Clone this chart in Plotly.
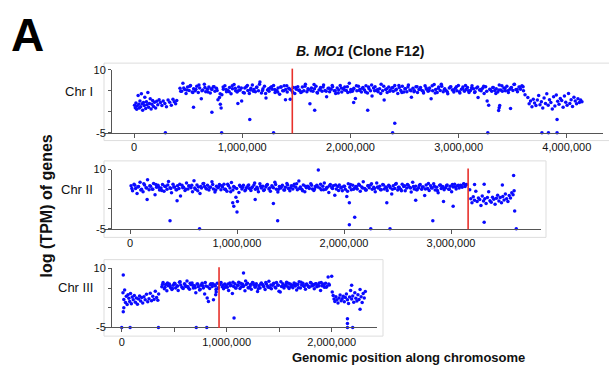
import plotly.graph_objects as go

# ---------------- data (positions in kb, values in log TPM) ----------------
chr1_left_x = [5, 12, 18, 25, 30, 38, 44, 50, 55, 62, 68, 75, 80, 88, 95, 100, 108, 115, 120, 128,
               135, 142, 150, 158, 165, 172, 180, 190, 200, 210, 220, 232, 245, 258, 270, 285, 300, 315, 330, 345,
               360, 372, 385, 395]
chr1_left_y = [1.6, 1.0, 2.1, 0.6, 1.4, 3.9, 1.8, 0.9, 2.6, 1.2, 4.3, 1.9, 0.4, 2.2, 1.5, 3.5, 0.8, 2.4, 1.7, 4.6,
               1.1, 2.0, 3.1, 0.7, 1.8, 2.7, 1.3, 2.3, 0.9, 2.5, 1.7, 2.9, 2.2, 1.5, 2.6, 2.0, 1.2, 2.8, 2.3, 1.6,
               3.0, 2.4, 1.9, 2.7]
chr1_band_x = [425, 440, 452, 468, 481, 495, 510, 522, 538, 551,
               566, 580, 594, 607, 622, 636, 650, 663, 678, 692,
               705, 720, 733, 748, 762, 776, 790, 798, 805, 812,
               826, 840, 855, 868, 883, 897, 910, 925, 939, 953,
               967, 981, 995, 1010, 1024, 1038, 1052, 1066, 1080, 1094,
               1108, 1122, 1136, 1150, 1164, 1178, 1192, 1206, 1220, 1234,
               1248, 1262, 1276, 1290, 1304, 1318, 1332, 1346, 1360, 1374,
               1388, 1402, 1416, 1430, 1444, 1458, 1472, 1486, 1500, 1514,
               1528, 1542, 1556, 1570, 1584, 1598, 1612, 1626, 1640, 1654,
               1668, 1682, 1696, 1710, 1724, 1738, 1752, 1766, 1780, 1794,
               1808, 1822, 1836, 1850, 1864, 1878, 1892, 1906, 1920, 1934,
               1948, 1962, 1976, 1990, 2004, 2018, 2032, 2046, 2060, 2074,
               2088, 2102, 2116, 2130, 2144, 2158, 2172, 2186, 2200, 2214,
               2228, 2242, 2256, 2270, 2284, 2298, 2312, 2326, 2340, 2354,
               2368, 2382, 2396, 2410, 2424, 2438, 2452, 2466, 2480, 2494,
               2508, 2522, 2536, 2550, 2564, 2578, 2592, 2606, 2620, 2634,
               2648, 2662, 2676, 2690, 2704, 2718, 2732, 2746, 2760, 2774,
               2788, 2802, 2816, 2830, 2844, 2858, 2872, 2886, 2900, 2914,
               2928, 2942, 2956, 2970, 2984, 2998, 3012, 3026, 3040, 3054,
               3068, 3082, 3096, 3110, 3124, 3138, 3152, 3166, 3180, 3194,
               3208, 3222, 3236, 3250, 3264, 3278, 3292, 3306, 3320, 3334,
               3348, 3362, 3376, 3390, 3404, 3418, 3432, 3446, 3460, 3474,
               3488, 3502, 3516, 3530, 3544, 3558, 3572, 3586, 3600, 3614]
chr1_band_y = [5.6, 4.9, 6.8, 5.3, 4.4, 5.9, 5.1, 6.3, 4.7, 5.5,
               5.0, 6.1, 4.6, 5.7, 3.1, 5.2, 6.6, 4.8, 5.4, 5.9,
               4.5, 5.3, 6.0, 4.9, 5.6, 2.9, 3.4, 1.8, 0.9, 4.1,
               5.4, 6.2, 4.8, 5.1, 5.8, 4.3, 5.5, 6.5, 5.0, 4.7,
               5.9, 5.2, 2.6, 4.6, 5.7, 6.0, 5.1, 4.4, 5.6, 6.4,
               5.3, 4.8, 5.9, 5.0, 7.1, 4.5, 5.5, 6.1, 3.3, 5.2,
               4.9, 5.8, 5.4, 6.3, 4.6, 5.1, 5.7, 4.2, 5.9, 5.0,
               6.2, 5.3, 4.7, 5.6, 3.0, 5.1, 5.8, 4.4, 5.4, 6.0,
               5.2, 4.6, 5.9, 5.0, 6.6, 4.8, 5.3, 1.9, 5.7, 4.9,
               5.5, 6.1, 4.5, 5.2, 5.8, 4.9, 6.4, 5.1, 3.6, 5.6,
               4.8, 5.4, 6.0, 5.0, 4.4, 5.7, 5.2, 6.3, 4.7, 5.5,
               5.9, 5.1, 4.6, 6.8, 5.3, 4.9, 5.6, 3.2, 5.0, 6.1,
               5.4, 4.7, 5.8, 5.2, 6.2, 4.5, 5.5, 5.0, 3.8, 5.7,
               6.0, 5.1, 4.8, 5.5, 6.6, 5.0, 2.8, 5.3, 4.6, 5.9,
               5.2, 5.7, 4.9, 6.3, 5.4, 4.4, 5.8, 5.1, 6.1, 4.7,
               5.5, 4.8, 6.4, 5.2, 3.5, 5.6, 5.0, 6.0, 4.6, 5.3,
               5.8, 5.1, 4.5, 6.2, 5.4, 4.9, 5.7, 3.1, 5.0, 6.5,
               5.3, 4.6, 5.9, 5.1, 6.1, 4.8, 5.5, 5.0, 4.3, 5.7,
               6.0, 5.2, 4.7, 5.6, 5.0, 6.3, 4.5, 5.4, 5.9, 4.9,
               5.3, 5.8, 4.6, 5.1, 6.2, 5.5, 4.8, 5.7, 3.4, 5.2,
               5.0, 5.6, 4.4, 6.0, 2.6, 1.6, 5.3, 4.9, 5.8, 5.1,
               5.5, 4.7, 6.4, 5.2, 4.9, 5.7, 5.0, 6.1, 4.6, 5.4,
               5.8, 5.1, 6.6, 5.3, 4.8, 5.9, 5.4, 6.2, 5.0, 4.1]
chr1_band2_x = [432, 460, 488, 516, 544, 572, 600, 628, 656, 684,
                712, 740, 768, 796, 824, 852, 880, 908, 936, 964,
                992, 1020, 1048, 1076, 1104, 1132, 1160, 1188, 1216, 1244,
                1272, 1300, 1328, 1356, 1384, 1412, 1440, 1468, 1496, 1524,
                1552, 1580, 1608, 1636, 1664, 1692, 1720, 1748, 1776, 1804,
                1832, 1860, 1888, 1916, 1944, 1972, 2000, 2028, 2056, 2084,
                2112, 2140, 2168, 2196, 2224, 2252, 2280, 2308, 2336, 2364,
                2392, 2420, 2448, 2476, 2504, 2532, 2560, 2588, 2616, 2644,
                2672, 2700, 2728, 2756, 2784, 2812, 2840, 2868, 2896, 2924,
                2952, 2980, 3008, 3036, 3064, 3092, 3120, 3148, 3176, 3204,
                3232, 3260, 3288, 3316, 3344, 3372, 3400, 3428, 3456, 3484,
                3512, 3540, 3568, 3596]
chr1_band2_y = [4.9, 5.7, 5.2, 6.1, 4.6, 5.4, 6.4, 5.0, 5.8, 4.7,
                5.5, 6.0, 5.1, 4.3, 5.9, 5.3, 4.8, 6.2, 5.6, 5.0,
                5.7, 4.5, 6.3, 5.2, 4.9, 5.8, 6.6, 5.1, 4.4, 5.5,
                6.0, 5.3, 4.7, 5.9, 5.0, 6.2, 5.4, 4.6, 5.8, 5.1,
                4.8, 6.1, 5.5, 5.0, 6.5, 4.6, 5.3, 5.9, 4.9, 5.6,
                6.3, 5.0, 4.5, 5.7, 5.2, 6.0, 4.8, 5.4, 6.2, 5.1,
                5.6, 4.7, 5.9, 6.4, 5.0, 5.3, 4.4, 6.1, 5.5, 4.9,
                5.8, 5.2, 6.3, 4.6, 5.5, 5.9, 5.0, 4.8, 6.0, 5.4,
                4.9, 5.7, 5.1, 6.2, 4.5, 5.6, 6.6, 5.3, 4.7, 5.9,
                5.2, 6.0, 4.8, 5.5, 6.3, 5.0, 5.7, 4.6, 5.9, 5.3,
                6.1, 4.9, 5.4, 5.8, 4.4, 5.2, 6.2, 5.6, 5.0, 5.7,
                6.5, 5.3, 5.9, 6.0]
chr1_right_x = [3640, 3652, 3665, 3678, 3690, 3702, 3715, 3728, 3740, 3752, 3765, 3778, 3790, 3803, 3815, 3828,
                3840, 3853, 3866, 3878, 3890, 3903, 3916, 3928, 3940, 3953, 3966, 3978, 3990, 4003, 4016, 4028,
                4040, 4053, 4066, 4078, 4090, 4103, 4116, 4128, 4140]
chr1_right_y = [3.4, 1.9, 2.6, 1.2, 3.0, 2.1, 1.5, 2.8, 3.9, 1.7, 2.4, 0.9, 3.3, 2.0, 4.3, 1.6,
                2.9, 2.2, 0.7, 3.6, 1.4, 4.0, 2.5, 1.8, 3.2, 2.7, 1.1, 3.8, 2.3, 1.6, 4.4, 2.0,
                2.9, 1.3, 3.5, 2.6, 1.9, 3.1, 2.2, 2.8, 2.4]
chr1_out_x = [290, 810, 1290, 2390, 3270, 3770, 3830, 3910, 1070, 2410, 3910, 3370, 3375, 3380, 550,
              720, 960, 1400, 1670, 2160, 2030, 3480]
chr1_out_y = [-5, -5, -5, -5, -5, -5, -5, -5, -1.8, -2.7, -1.8, 0.3, 1.0, 1.5, 1.1,
              -0.1, 2.0, 2.9, 0.4, 0.4, 2.2, 0.8]

chr2_band_x = [10, 24, 38, 52, 66, 80, 94, 108, 122, 136,
               150, 164, 178, 192, 206, 220, 234, 248, 262, 276,
               290, 304, 318, 332, 346, 360, 374, 388, 402, 416,
               430, 444, 458, 472, 486, 500, 514, 528, 542, 556,
               570, 584, 598, 612, 626, 640, 654, 668, 682, 696,
               710, 724, 738, 752, 766, 780, 794, 808, 822, 836,
               850, 864, 878, 892, 906, 920, 934, 948, 962, 976,
               990, 1004, 1018, 1032, 1046, 1060, 1074, 1088, 1102, 1116,
               1130, 1144, 1158, 1172, 1186, 1200, 1214, 1228, 1242, 1256,
               1270, 1284, 1298, 1312, 1326, 1340, 1354, 1368, 1382, 1396,
               1410, 1424, 1438, 1452, 1466, 1480, 1494, 1508, 1522, 1536,
               1550, 1564, 1578, 1592, 1606, 1620, 1634, 1648, 1662, 1676,
               1690, 1704, 1718, 1732, 1746, 1760, 1774, 1788, 1802, 1816,
               1830, 1844, 1858, 1872, 1886, 1900, 1914, 1928, 1942, 1956,
               1970, 1984, 1998, 2012, 2026, 2040, 2054, 2068, 2082, 2096,
               2110, 2124, 2138, 2152, 2166, 2180, 2194, 2208, 2222, 2236,
               2250, 2264, 2278, 2292, 2306, 2320, 2334, 2348, 2362, 2376,
               2390, 2404, 2418, 2432, 2446, 2460, 2474, 2488, 2502, 2516,
               2530, 2544, 2558, 2572, 2586, 2600, 2614, 2628, 2642, 2656,
               2670, 2684, 2698, 2712, 2726, 2740, 2754, 2768, 2782, 2796,
               2810, 2824, 2838, 2852, 2866, 2880, 2894, 2908, 2922, 2936,
               2950, 2964, 2978, 2992, 3006, 3020, 3034, 3048, 3062, 3076,
               3090, 3104, 3118, 3132, 3146]
chr2_band_y = [5.9, 4.6, 6.3, 5.2, 3.9, 5.7, 6.8, 5.0, 4.4, 6.1,
               5.4, 7.4, 4.9, 5.8, 5.1, 6.5, 3.6, 5.5, 6.0, 4.8,
               5.3, 6.2, 4.5, 5.7, 5.0, 7.0, 5.4, 4.1, 6.3, 5.6,
               4.9, 5.9, 5.2, 3.3, 6.0, 5.5, 4.7, 6.6, 5.1, 5.8,
               5.4, 4.4, 7.2, 5.0, 6.1, 5.6, 3.9, 5.3, 6.4, 5.7,
               5.2, 6.0, 4.8, 5.5, 6.9, 5.1, 4.3, 5.8, 5.4, 6.2,
               4.9, 5.6, 6.3, 5.0, 4.5, 5.9, 5.3, 6.7, 4.8, 5.5,
               3.0, 1.9, 4.2, 5.7, 5.1, 6.0, 4.6, 5.4, 5.9, 5.2,
               4.7, 5.6, 6.1, 5.0, 5.5, 4.4, 6.4, 5.3, 5.8, 4.9,
               5.6, 6.2, 5.1, 4.5, 5.9, 5.4, 6.8, 5.0, 4.3, 5.7,
               5.3, 6.0, 4.8, 5.5, 6.5, 5.2, 4.6, 5.9, 5.1, 6.3,
               5.5, 4.9, 7.1, 5.6, 5.0, 6.1, 4.4, 5.4, 5.8, 5.2,
               6.4, 5.1, 4.7, 5.7, 6.0, 9.9, 5.3, 4.9, 5.8, 6.6,
               5.0, 5.5, 4.2, 6.2, 5.4, 5.9, 3.5, 5.1, 5.7, 6.1,
               5.3, 4.6, 5.8, 5.0, 3.2, 6.4, 5.5, 4.9, 6.0, 5.2,
               5.7, 5.1, 6.3, 4.5, 5.6, 6.9, 5.2, 4.8, 5.9, 5.4,
               6.1, 5.0, 5.5, 4.4, 6.6, 5.3, 5.8, 4.9, 6.2, 5.1,
               5.6, 4.7, 6.0, 5.4, 3.8, 5.9, 5.2, 6.5, 4.8, 5.5,
               5.0, 6.3, 5.7, 4.6, 5.3, 6.0, 5.5, 4.3, 6.8, 5.1,
               5.8, 4.9, 5.4, 6.2, 5.0, 5.6, 3.4, 6.1, 5.2, 4.7,
               5.9, 5.3, 6.4, 4.8, 5.5, 4.1, 6.0, 5.2, 5.7, 4.9,
               5.4, 6.1, 5.0, 5.8, 4.4, 5.6, 6.3, 5.1, 5.9, 5.3,
               6.0, 5.5, 6.4, 5.7, 6.2]
chr2_band2_x = [17, 45, 73, 101, 129, 157, 185, 213, 241, 269,
                297, 325, 353, 381, 409, 437, 465, 493, 521, 549,
                577, 605, 633, 661, 689, 717, 745, 773, 801, 829,
                857, 885, 913, 941, 969, 997, 1025, 1053, 1081, 1109,
                1137, 1165, 1193, 1221, 1249, 1277, 1305, 1333, 1361, 1389,
                1417, 1445, 1473, 1501, 1529, 1557, 1585, 1613, 1641, 1669,
                1697, 1725, 1753, 1781, 1809, 1837, 1865, 1893, 1921, 1949,
                1977, 2005, 2033, 2061, 2089, 2117, 2145, 2173, 2201, 2229,
                2257, 2285, 2313, 2341, 2369, 2397, 2425, 2453, 2481, 2509,
                2537, 2565, 2593, 2621, 2649, 2677, 2705, 2733, 2761, 2789,
                2817, 2845, 2873, 2901, 2929, 2957, 2985, 3013, 3041, 3069,
                3097, 3125]
chr2_band2_y = [5.2, 6.0, 5.6, 4.8, 6.4, 5.3, 5.9, 5.0, 6.2, 5.5,
                4.7, 5.8, 6.1, 5.2, 5.6, 4.9, 6.3, 5.4, 5.0, 5.9,
                6.0, 5.3, 4.6, 5.7, 6.5, 5.1, 5.5, 6.2, 4.8, 5.6,
                5.9, 5.0, 6.3, 4.4, 5.7, 5.2, 6.0, 5.5, 4.9, 6.1,
                5.4, 6.6, 5.1, 5.8, 4.7, 6.0, 5.3, 5.6, 6.2, 5.0,
                5.7, 4.8, 6.1, 5.4, 5.9, 6.4, 5.2, 4.6, 5.8, 5.5,
                6.0, 5.1, 5.6, 6.3, 4.9, 5.4, 5.9, 5.2, 6.1, 4.7,
                5.5, 5.8, 4.5, 6.2, 5.0, 5.7, 6.0, 5.3, 4.8, 5.9,
                6.4, 5.2, 5.6, 4.9, 6.1, 5.4, 5.8, 5.0, 6.3, 5.5,
                4.6, 5.9, 6.2, 5.3, 5.7, 4.9, 6.0, 5.6, 5.1, 6.5,
                5.4, 5.8, 4.7, 6.1, 5.3, 5.9, 5.0, 6.2, 5.6, 6.0,
                5.8, 6.3]
chr2_right_x = [3175, 3185, 3196, 3208, 3220, 3232, 3244, 3256, 3268, 3280, 3292, 3304, 3316, 3328, 3340, 3352,
                3364, 3376, 3388, 3400, 3412, 3424, 3436, 3448, 3460, 3472, 3484, 3496, 3508, 3520, 3532, 3544,
                3556, 3568, 3580, 3590]
chr2_right_y = [4.9, 2.6, 1.6, 3.1, 2.2, 4.5, 1.9, 2.8, 2.4, 0.9, 3.3, 2.0, 2.6, 1.4, 2.9, 4.4,
                2.1, 1.7, 3.0, 2.5, 1.2, 2.7, 3.5, 2.0, 2.9, 1.6, 3.2, 2.3, 3.8, 2.6, 1.9, 3.4,
                2.8, 4.1, 3.6, 4.6]
chr2_out_x = [374, 650, 1000, 1380, 2050, 2100, 2250, 2430, 2830, 3310, 3610, 3585, 3595, 3310, 3220, 3480,
              960, 970, 1170, 1340, 440, 160, 2050, 2400, 2930, 3020, 2670]
chr2_out_y = [-3.0, -5, -0.75, -3.0, -4.0, -2.1, -5, -5, -3.0, -3.4, -5, 8.5, -0.5, 6.3, 6.2, 6.1,
              1.6, 0.7, 2.4, 1.4, 2.1, 2.4, 1.6, 1.6, 1.9, 0.7, 2.2]

chr3_left_x = [12, 20, 28, 36, 44, 52, 60, 68, 76, 84, 92, 100, 110, 120, 130, 140, 150, 160, 170, 180,
               190, 200, 212, 224, 236, 248, 260, 272, 284, 296, 308, 320, 332, 344, 352]
chr3_left_y = [3.8, 2.1, 4.5, 1.3, 2.9, 0.8, 3.3, 2.4, 1.6, 3.6, 1.0, 2.7, 2.0, 3.1, 1.4, 2.5, 0.9, 2.2, 3.0, 1.7,
               2.6, 1.2, 2.8, 2.0, 3.4, 1.5, 2.3, 3.7, 1.8, 2.9, 2.1, 4.2, 2.6, 1.9, 3.5]
chr3_band_x = [382, 394, 406, 418, 430, 442, 454, 466, 478, 490,
               502, 514, 526, 538, 550, 562, 574, 586, 598, 610,
               622, 634, 646, 658, 670, 682, 694, 706, 718, 730,
               742, 754, 766, 778, 790, 802, 814, 826, 838, 850,
               862, 874, 886, 898, 910, 922, 934, 946, 958, 970,
               982, 994, 1006, 1018, 1030, 1042, 1054, 1066, 1078, 1090,
               1102, 1114, 1126, 1138, 1150, 1162, 1174, 1186, 1198, 1210,
               1222, 1234, 1246, 1258, 1270, 1282, 1294, 1306, 1318, 1330,
               1342, 1354, 1366, 1378, 1390, 1402, 1414, 1426, 1438, 1450,
               1462, 1474, 1486, 1498, 1510, 1522, 1534, 1546, 1558, 1570,
               1582, 1594, 1606, 1618, 1630, 1642, 1654, 1666, 1678, 1690,
               1702, 1714, 1726, 1738, 1750, 1762, 1774, 1786, 1798, 1810,
               1822, 1834, 1846, 1858, 1870, 1882, 1894, 1906, 1918, 1930,
               1942, 1954, 1966, 1978]
chr3_band_y = [5.3, 6.4, 4.8, 5.9, 4.3, 5.6, 6.0, 5.1, 4.6, 5.7,
               6.2, 5.0, 5.5, 4.4, 6.5, 5.8, 5.2, 4.9, 6.1, 5.4,
               6.8, 5.1, 4.7, 5.9, 6.3, 5.0, 5.6, 3.8, 6.0, 5.3,
               4.5, 5.7, 6.2, 5.0, 3.5, 5.5, 2.5, 1.6, 4.9, 6.1,
               5.4, 2.0, 5.8, 4.6, 6.2, 5.1, 5.9, 6.4, 5.3, 4.8,
               6.0, 5.6, 5.2, 4.4, 6.3, 5.8, 3.6, 5.4, 6.1, 5.0,
               5.7, 6.5, 4.9, 5.3, 6.0, 5.5, 4.3, 5.9, 6.2, 5.1,
               5.4, 4.7, 6.4, 5.8, 5.2, 6.1, 4.1, 5.6, 5.0, 6.3,
               5.9, 5.3, 4.6, 6.0, 5.5, 6.7, 5.1, 4.8, 5.7, 6.2,
               5.2, 6.4, 5.8, 4.2, 4.0, 5.4, 6.1, 5.0, 5.6, 6.5,
               5.3, 4.9, 6.0, 5.7, 5.1, 6.3, 5.5, 4.5, 5.9, 6.6,
               5.0, 5.8, 6.2, 5.4, 4.7, 6.0, 5.6, 5.2, 6.4, 5.5,
               5.9, 4.8, 6.1, 5.3, 5.7, 6.3, 4.4, 5.6, 6.0, 5.2,
               6.2, 5.4, 7.8, 5.8]
chr3_band2_x = [388, 412, 436, 460, 484, 508, 532, 556, 580, 604,
                628, 652, 676, 700, 724, 748, 772, 796, 820, 844,
                868, 892, 916, 940, 964, 988, 1012, 1036, 1060, 1084,
                1108, 1132, 1156, 1180, 1204, 1228, 1252, 1276, 1300, 1324,
                1348, 1372, 1396, 1420, 1444, 1468, 1492, 1516, 1540, 1564,
                1588, 1612, 1636, 1660, 1684, 1708, 1732, 1756, 1780, 1804,
                1828, 1852, 1876, 1900, 1924, 1948, 1972]
chr3_band2_y = [5.9, 5.2, 6.3, 5.6, 4.9, 6.1, 5.5, 6.6, 5.0, 5.8,
                5.4, 6.2, 5.7, 5.1, 6.0, 4.7, 5.6, 6.4, 5.3, 5.9,
                6.1, 5.5, 4.9, 6.3, 5.8, 5.2, 6.0, 5.6, 6.5, 5.0,
                5.7, 6.2, 5.4, 6.8, 5.1, 5.9, 6.3, 5.5, 4.8, 6.0,
                5.6, 6.4, 5.2, 5.8, 6.1, 5.0, 5.7, 6.6, 5.3, 5.9,
                6.2, 5.4, 5.8, 6.0, 5.1, 6.5, 5.6, 5.9, 5.3, 6.3,
                5.7, 6.1, 5.5, 6.4, 5.8, 5.2, 6.0]
chr3_right_x = [2005, 2014, 2022, 2030, 2040, 2050, 2060, 2070, 2080, 2090, 2100, 2110, 2120, 2130, 2140, 2150,
                2160, 2170, 2180, 2190, 2200, 2210, 2220, 2230, 2240, 2250, 2260, 2270, 2280, 2290, 2300, 2310, 2320]
chr3_right_y = [4.0, 3.1, 2.2, 1.6, 2.8, 2.0, 1.2, 2.5, 3.2, 1.8, 2.3, 2.9, 1.5, 2.6, 3.5, 2.0,
                1.1, 2.7, 4.4, 2.2, 3.0, 1.4, 3.8, 2.4, 1.7, 3.3, 2.1, 4.6, 2.8, 1.3, 3.6, 2.5, 4.1]
chr3_out_x = [2150, 2150, 2150, 2190, 2270, 2000, 1160, 1070, 0, 80, 350, 710, 810, 2200, 15, 15, 20, 900, 895]
chr3_out_y = [-2.8, -4.0, -5, 5.7, -0.4, 8.0, 8.8, -2.6, -5, -5, -5, -5, -5, -5, 8.3, -1.0, 0.0, 4.0, 3.3]

# red breakpoint lines (bp) and axis ticks
breakpoints = [1463000, 3160000, 927000]
chrom_labels = ["Chr I", "Chr II", "Chr III"]
x_tick_vals = [[0, 1000000, 2000000, 3000000, 4000000],
               [0, 1000000, 2000000, 3000000],
               [0, 1000000, 2000000]]
x_tick_text = [["0", "1,000,000", "2,000,000", "3,000,000", "4,000,000"],
               ["0", "1,000,000", "2,000,000", "3,000,000"],
               ["0", "1,000,000", "2,000,000"]]
y_tick_vals = [-5, 0, 5, 10]
y_tick_text = ["-5", "", "", "10"]

# ---------------- figure ----------------
W, H = 609, 376
FONT = "Liberation Sans, Arial, Helvetica, sans-serif"


def fx(p):
    return p / W


def fy(p):
    return 1 - p / H


chroms = [
    (chr1_left_x + chr1_band_x + chr1_band2_x + chr1_right_x + chr1_out_x,
     chr1_left_y + chr1_band_y + chr1_band2_y + chr1_right_y + chr1_out_y),
    (chr2_band_x + chr2_band2_x + chr2_right_x + chr2_out_x,
     chr2_band_y + chr2_band2_y + chr2_right_y + chr2_out_y),
    (chr3_left_x + chr3_band_x + chr3_band2_x + chr3_right_x + chr3_out_x,
     chr3_left_y + chr3_band_y + chr3_band2_y + chr3_right_y + chr3_out_y),
]

# layout geometry (pixels)
geo = [
    dict(xdom=(105, 603), zero=134, ppm=108.2, ytop=66, ybot=131, yaxis_x=111,
         box=(104, 59, 640, 139), lab_y=88, minor=None),
    dict(xdom=(105, 541), zero=130, ppm=107.0, ytop=169, ybot=230, yaxis_x=111,
         box=(104, 160, 546, 239), lab_y=190, minor=None),
    dict(xdom=(105, 377), zero=121.7, ppm=105.0, ytop=271, ybot=332, yaxis_x=111,
         box=(104, 262, 383, 341), lab_y=291, minor=[500000, 1500000]),
]

fig = go.Figure()
shapes = []
annotations = []
layout = {}

for i, ((xs, ys), g) in enumerate(zip(chroms, geo)):
    n = "" if i == 0 else str(i + 1)
    fig.add_trace(go.Scatter(
        x=[v * 1000 for v in xs], y=ys, mode="markers",
        marker=dict(color="#0a0aff", size=3.5, line=dict(width=0)),
        xaxis="x" + n, yaxis="y" + n, cliponaxis=False, showlegend=False,
        hoverinfo="skip"))
    x0 = (g["xdom"][0] - g["zero"]) / g["ppm"] * 1e6
    x1 = (g["xdom"][1] - g["zero"]) / g["ppm"] * 1e6
    xa = dict(domain=[fx(g["xdom"][0]), fx(g["xdom"][1])], range=[x0, x1],
              anchor="y" + n, showline=True, linecolor="#555555", linewidth=1,
              ticks="outside", ticklen=4, tickcolor="#555555",
              tickvals=x_tick_vals[i], ticktext=x_tick_text[i],
              tickfont=dict(size=11, color="#111111", family=FONT),
              showgrid=False, zeroline=False, fixedrange=True)
    if g["minor"]:
        xa["minor"] = dict(tickmode="array", tickvals=g["minor"], ticks="outside",
                           ticklen=4, tickcolor="#555555", showgrid=False)
    ya = dict(domain=[fy(g["ybot"]), fy(g["ytop"])], range=[-5, 10],
              anchor="free", position=fx(g["yaxis_x"]),
              showline=True, linecolor="#555555", linewidth=1,
              ticks="outside", ticklen=3, tickcolor="#555555",
              tickvals=y_tick_vals, ticktext=y_tick_text,
              tickfont=dict(size=11, color="#111111", family=FONT),
              showgrid=False, zeroline=False, fixedrange=True)
    layout["xaxis" + n] = xa
    layout["yaxis" + n] = ya
    bx = g["box"]
    shapes.append(dict(type="rect", xref="paper", yref="paper",
                       x0=fx(bx[0]), x1=fx(bx[2]), y0=fy(bx[3]), y1=fy(bx[1]),
                       line=dict(color="#dddddd", width=1), layer="below"))
    shapes.append(dict(type="line", xref="x" + n, yref="y" + n + " domain",
                       x0=breakpoints[i], x1=breakpoints[i], y0=-0.01, y1=1.02,
                       line=dict(color="#e8312b", width=1.6)))
    annotations.append(dict(text=chrom_labels[i], xref="paper", yref="paper",
                            x=fx(95), y=fy(g["lab_y"]), xanchor="right", yanchor="middle",
                            showarrow=False, font=dict(size=13, color="#111111", family=FONT)))

annotations += [
    dict(text="<b>A</b>", xref="paper", yref="paper", x=fx(27), y=fy(30),
         xanchor="center", yanchor="middle", showarrow=False,
         font=dict(size=46, color="#000000", family=FONT)),
    dict(text="<b><i>B. MO1</i> (Clone F12)</b>", xref="paper", yref="paper",
         x=fx(360), y=fy(46.5), xanchor="center", yanchor="middle", showarrow=False,
         font=dict(size=14, color="#111111", family=FONT)),
    dict(text="<b>log (TPM) of genes</b>", xref="paper", yref="paper",
         x=fx(46), y=fy(207), xanchor="center", yanchor="middle", textangle=-90,
         showarrow=False, font=dict(size=16, color="#111111", family=FONT)),
    dict(text="<b>Genomic position along chromosome</b>", xref="paper", yref="paper",
         x=fx(408), y=fy(363), xanchor="center", yanchor="middle", showarrow=False,
         font=dict(size=13, color="#111111", family=FONT)),
]

fig.update_layout(
    width=W, height=H, margin=dict(l=0, r=0, t=0, b=0),
    paper_bgcolor="white", plot_bgcolor="white",
    shapes=shapes, annotations=annotations, showlegend=False,
    **layout)

fig.write_html("out.html", config={"displayModeBar": False})
